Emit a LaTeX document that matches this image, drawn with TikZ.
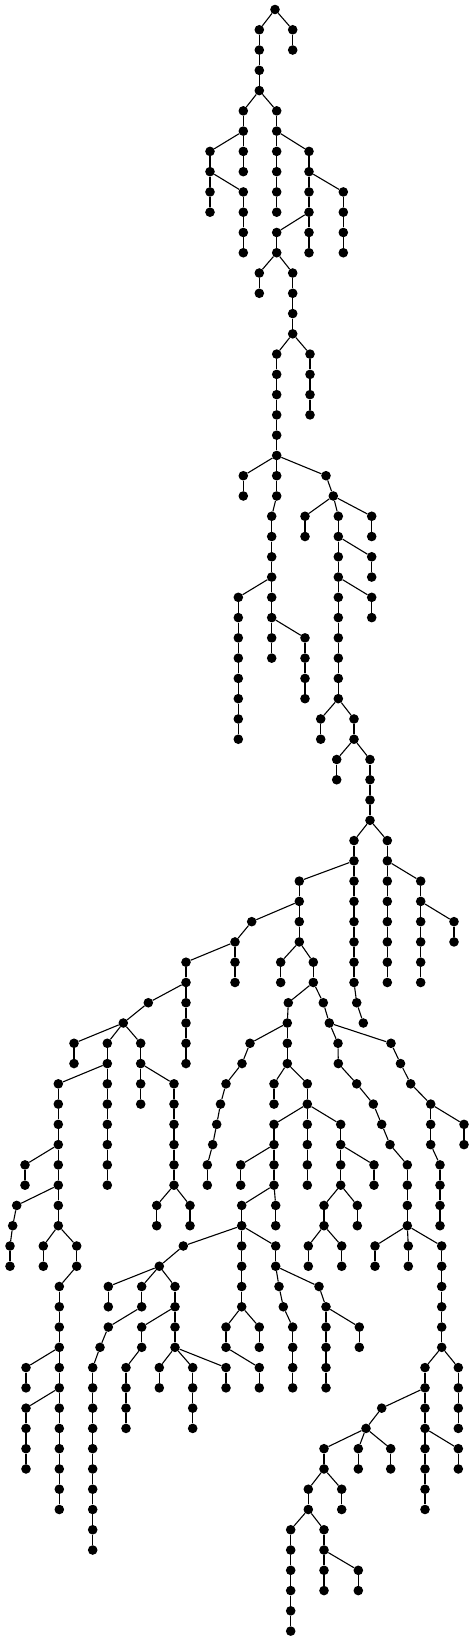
\documentclass[tikz,border=0pt]{standalone}
\begin{document}
\begin{tikzpicture}[x=1pt,y=1pt,
  dot/.style={circle,fill=black,draw=none,inner sep=0pt,minimum size=9.6pt},
  edge/.style={line width=1.1pt,black}]
\path[use as bounding box] (0,0) rectangle (475,-1642);
\newcommand\N[3]{\node[dot] (#1) at (#2,{-9.5-20.27*#3}) {};}
\N{a0}{275}{0}
\N{a1}{259.3}{1}\N{c1}{292.7}{1}
\N{a2}{259.3}{2}\N{c2}{292.7}{2}
\N{a3}{259.3}{3}
\N{a4}{259.3}{4}
\N{d5}{243.3}{5}\N{e5}{276.7}{5}
\N{d6}{243.3}{6}\N{e6}{276.7}{6}
\N{f7}{210}{7}\N{g7}{243.3}{7}\N{e7}{276.7}{7}\N{i7}{309}{7}
\N{f8}{210}{8}\N{g8}{243.3}{8}\N{e8}{276.7}{8}\N{i8}{309}{8}
\N{f9}{210}{9}\N{h9}{243.3}{9}\N{e9}{276.7}{9}\N{i9}{309}{9}\N{j9}{343.3}{9}
\N{f10}{210}{10}\N{h10}{243.3}{10}\N{e10}{276.7}{10}\N{i10}{309}{10}\N{j10}{343.3}{10}
\N{h11}{243.3}{11}\N{k11}{276.7}{11}\N{i11}{309}{11}\N{j11}{343.3}{11}
\N{h12}{243.3}{12}\N{k12}{276.7}{12}\N{i12}{309}{12}\N{j12}{343.3}{12}
\N{m13}{259.3}{13}\N{n13}{292.7}{13}
\N{m14}{259.3}{14}\N{n14}{292.7}{14}
\N{n15}{292.7}{15}
\N{n16}{292.7}{16}
\N{o17}{276.7}{17}\N{q17}{310}{17}
\N{o18}{276.7}{18}\N{q18}{310}{18}
\N{o19}{276.7}{19}\N{q19}{310}{19}
\N{o20}{276.7}{20}\N{q20}{310}{20}
\N{o21}{276.7}{21}
\N{o22}{276.7}{22}
\N{r23}{243.3}{23}\N{s23}{276.7}{23}\N{t23}{326}{23}
\N{r24}{243.3}{24}\N{s24}{276.7}{24}\N{t24}{333.3}{24}
\N{s25}{271.7}{25}\N{u25}{305}{25}\N{t25}{338.3}{25}\N{v25}{371.7}{25}
\N{s26}{271.7}{26}\N{u26}{305}{26}\N{t26}{338.3}{26}\N{v26}{371.7}{26}
\N{s27}{271.7}{27}\N{t27}{338.3}{27}\N{w27}{371.7}{27}
\N{s28}{271.7}{28}\N{t28}{338.3}{28}\N{w28}{371.7}{28}
\N{x29}{238.3}{29}\N{s29}{271.7}{29}\N{t29}{338.3}{29}\N{y29}{371.7}{29}
\N{x30}{238.3}{30}\N{s30}{271.7}{30}\N{t30}{338.3}{30}\N{y30}{371.7}{30}
\N{x31}{238.3}{31}\N{s31}{271.7}{31}\N{z31}{305}{31}\N{t31}{338.3}{31}
\N{x32}{238.3}{32}\N{s32}{271.7}{32}\N{z32}{305}{32}\N{t32}{338.3}{32}
\N{x33}{238.3}{33}\N{z33}{305}{33}\N{t33}{338.3}{33}
\N{x34}{238.3}{34}\N{z34}{305}{34}\N{t34}{338.3}{34}
\N{x35}{238.3}{35}\N{aa35}{320.7}{35}\N{ab35}{354}{35}
\N{x36}{238.3}{36}\N{aa36}{320.7}{36}\N{ab36}{354}{36}
\N{ac37}{336.7}{37}\N{ad37}{370}{37}
\N{ac38}{336.7}{38}\N{ad38}{370}{38}
\N{ad39}{370}{39}
\N{ad40}{370}{40}
\N{ae41}{354}{41}\N{af41}{387.3}{41}
\N{ae42}{354}{42}\N{af42}{387.3}{42}
\N{ag43}{299.3}{43}\N{ae43}{354}{43}\N{af43}{387.3}{43}\N{ah43}{420.7}{43}
\N{ag44}{299.3}{44}\N{ae44}{354}{44}\N{af44}{387.3}{44}\N{ah44}{420.7}{44}
\N{ai45}{251.7}{45}\N{ag45}{299.3}{45}\N{ae45}{354}{45}\N{af45}{387.3}{45}\N{ah45}{420.7}{45}\N{aj45}{454}{45}
\N{ai46}{235}{46}\N{ag46}{299.3}{46}\N{ae46}{354}{46}\N{af46}{387.3}{46}\N{ah46}{420.7}{46}\N{aj46}{454}{46}
\N{ak47}{186}{47}\N{ai47}{235}{47}\N{al47}{280.7}{47}\N{am47}{313.3}{47}\N{ae47}{354}{47}\N{af47}{387.3}{47}\N{ah47}{420.7}{47}
\N{ak48}{186}{48}\N{ai48}{235}{48}\N{al48}{280.7}{48}\N{am48}{313.3}{48}\N{ae48}{354}{48}\N{af48}{387.3}{48}\N{ah48}{420.7}{48}
\N{an49}{148.3}{49}\N{ak49}{186}{49}\N{ao49}{288.3}{49}\N{ap49}{323.3}{49}\N{ae49}{356.7}{49}
\N{an50}{123.3}{50}\N{ak50}{186}{50}\N{ao50}{287.3}{50}\N{ap50}{329.3}{50}\N{ae50}{363.3}{50}
\N{aq51}{74}{51}\N{ar51}{107.3}{51}\N{as51}{140.7}{51}\N{ak51}{186}{51}\N{at51}{250}{51}\N{ao51}{287.3}{51}\N{au51}{338}{51}\N{av51}{391}{51}
\N{aq52}{74}{52}\N{ar52}{107.3}{52}\N{as52}{140.7}{52}\N{ak52}{186}{52}\N{at52}{242}{52}\N{ao52}{287.3}{52}\N{au52}{338.3}{52}\N{av52}{400.5}{52}
\N{aw53}{58.3}{53}\N{ar53}{107.3}{53}\N{as53}{140.7}{53}\N{ax53}{174}{53}\N{at53}{226}{53}\N{ay53}{274}{53}\N{az53}{307.3}{53}\N{au53}{356.7}{53}\N{av53}{410.7}{53}
\N{aw54}{58.3}{54}\N{ar54}{107.3}{54}\N{as54}{140.7}{54}\N{ax54}{174}{54}\N{at54}{220.5}{54}\N{ay54}{274}{54}\N{az54}{307.3}{54}\N{au54}{373.3}{54}\N{av54}{430.7}{54}
\N{aw55}{58.3}{55}\N{ar55}{107.3}{55}\N{ax55}{174}{55}\N{at55}{216.7}{55}\N{ba55}{274}{55}\N{az55}{307.3}{55}\N{bb55}{340.7}{55}\N{au55}{381.7}{55}\N{av55}{430.7}{55}\N{bc55}{464}{55}
\N{aw56}{58.3}{56}\N{ar56}{107.3}{56}\N{ax56}{174}{56}\N{at56}{212.7}{56}\N{ba56}{274}{56}\N{az56}{307.3}{56}\N{bb56}{340.7}{56}\N{au56}{390}{56}\N{av56}{430.7}{56}\N{bc56}{464}{56}
\N{bd57}{25}{57}\N{aw57}{58.3}{57}\N{ar57}{107.3}{57}\N{ax57}{174}{57}\N{at57}{207.3}{57}\N{be57}{240.7}{57}\N{ba57}{274}{57}\N{az57}{307.3}{57}\N{bb57}{340.7}{57}\N{bf57}{374}{57}\N{au57}{407.3}{57}\N{av57}{440}{57}
\N{bd58}{25}{58}\N{aw58}{58.3}{58}\N{ar58}{107.3}{58}\N{ax58}{174}{58}\N{at58}{207.3}{58}\N{be58}{240.7}{58}\N{ba58}{274}{58}\N{az58}{307.3}{58}\N{bb58}{340.7}{58}\N{bf58}{374}{58}\N{au58}{407.3}{58}\N{av58}{440}{58}
\N{bg59}{16.7}{59}\N{aw59}{58.3}{59}\N{bh59}{156.7}{59}\N{bi59}{190}{59}\N{bj59}{241.7}{59}\N{bk59}{275.7}{59}\N{bl59}{324}{59}\N{bm59}{357.3}{59}\N{au59}{407.3}{59}\N{av59}{440}{59}
\N{bg60}{12.7}{60}\N{aw60}{58.3}{60}\N{bh60}{156.7}{60}\N{bi60}{190}{60}\N{bj60}{241.7}{60}\N{bk60}{275.7}{60}\N{bl60}{324}{60}\N{bm60}{357.3}{60}\N{au60}{407.3}{60}\N{av60}{440}{60}
\N{bg61}{10}{61}\N{bn61}{43.3}{61}\N{bo61}{76.7}{61}\N{bp61}{183.3}{61}\N{bj61}{241.7}{61}\N{bq61}{275.7}{61}\N{br61}{308.3}{61}\N{bs61}{341.7}{61}\N{bt61}{375}{61}\N{bu61}{408.3}{61}\N{bv61}{441.7}{61}
\N{bg62}{10}{62}\N{bn62}{43.3}{62}\N{bo62}{76.7}{62}\N{bp62}{159.3}{62}\N{bj62}{241.7}{62}\N{bq62}{275.7}{62}\N{br62}{308.3}{62}\N{bs62}{341.7}{62}\N{bt62}{375}{62}\N{bu62}{408.3}{62}\N{bv62}{441.7}{62}
\N{bo63}{59.3}{63}\N{bw63}{108.3}{63}\N{bx63}{141.7}{63}\N{by63}{175}{63}\N{bj63}{241.7}{63}\N{bz63}{279}{63}\N{ca63}{319}{63}\N{bv63}{441.7}{63}
\N{bo64}{59.3}{64}\N{bw64}{108.3}{64}\N{bx64}{141.7}{64}\N{by64}{175}{64}\N{bj64}{241.7}{64}\N{bz64}{283.3}{64}\N{ca64}{326}{64}\N{bv64}{441.7}{64}
\N{bo65}{59.3}{65}\N{cb65}{108.3}{65}\N{cc65}{141.7}{65}\N{by65}{175}{65}\N{cd65}{226}{65}\N{ce65}{259.3}{65}\N{bz65}{292.7}{65}\N{ca65}{326}{65}\N{cf65}{359.3}{65}\N{bv65}{441.7}{65}
\N{bo66}{59.3}{66}\N{cb66}{100}{66}\N{cc66}{141.7}{66}\N{by66}{175}{66}\N{cd66}{226}{66}\N{ce66}{259.3}{66}\N{bz66}{292.7}{66}\N{ca66}{326}{66}\N{cf66}{359.3}{66}\N{bv66}{441.7}{66}
\N{cg67}{26}{67}\N{bo67}{59.3}{67}\N{cb67}{92.7}{67}\N{cc67}{126}{67}\N{ch67}{159.3}{67}\N{ci67}{192.7}{67}\N{cj67}{226}{67}\N{ck67}{259.3}{67}\N{bz67}{292.7}{67}\N{ca67}{326}{67}\N{cl67}{425}{67}\N{cm67}{458.3}{67}
\N{cg68}{26}{68}\N{bo68}{59.3}{68}\N{cb68}{92.7}{68}\N{cc68}{126}{68}\N{ch68}{159.3}{68}\N{ci68}{192.7}{68}\N{cj68}{226}{68}\N{ck68}{259.3}{68}\N{bz68}{292.7}{68}\N{ca68}{326}{68}\N{cl68}{425}{68}\N{cm68}{458.3}{68}
\N{cn69}{26}{69}\N{bo69}{59.3}{69}\N{cb69}{92.7}{69}\N{cc69}{126}{69}\N{ci69}{192.7}{69}\N{co69}{381.7}{69}\N{cl69}{425}{69}\N{cm69}{458.3}{69}
\N{cn70}{26}{70}\N{bo70}{59.3}{70}\N{cb70}{92.7}{70}\N{cc70}{126}{70}\N{ci70}{192.7}{70}\N{co70}{366}{70}\N{cl70}{425}{70}\N{cm70}{458.3}{70}
\N{cn71}{26}{71}\N{bo71}{59.3}{71}\N{cb71}{92.7}{71}\N{cp71}{324}{71}\N{cq71}{358.3}{71}\N{cr71}{390.7}{71}\N{cl71}{425}{71}\N{cs71}{458.3}{71}
\N{cn72}{26}{72}\N{bo72}{59.3}{72}\N{cb72}{92.7}{72}\N{cp72}{324}{72}\N{cq72}{358.3}{72}\N{cr72}{390.7}{72}\N{cl72}{425}{72}\N{cs72}{458.3}{72}
\N{bo73}{59.3}{73}\N{cb73}{92.7}{73}\N{ct73}{308.3}{73}\N{cu73}{341.7}{73}\N{cl73}{425}{73}
\N{bo74}{59.3}{74}\N{cb74}{92.7}{74}\N{ct74}{308.3}{74}\N{cu74}{341.7}{74}\N{cl74}{425}{74}
\N{cb75}{92.7}{75}\N{cv75}{290.7}{75}\N{cw75}{324}{75}
\N{cb76}{92.7}{76}\N{cv76}{290.7}{76}\N{cw76}{324}{76}
\N{cv77}{290.7}{77}\N{cw77}{324}{77}\N{cx77}{358.3}{77}
\N{cv78}{290.7}{78}\N{cw78}{324}{78}\N{cx78}{358.3}{78}
\N{cv79}{290.7}{79}
\N{cv80}{290.7}{80}
\foreach \p/\c in {
a0/a1,a0/c1,a1/a2,c1/c2,a2/a3,a3/a4,a4/d5,a4/e5,d5/d6,e5/e6,
d6/f7,d6/g7,e6/e7,e6/i7,f7/f8,g7/g8,e7/e8,i7/i8,
f8/f9,f8/h9,e8/e9,i8/i9,i8/j9,f9/f10,h9/h10,e9/e10,i9/i10,j9/j10,
h10/h11,i10/k11,i10/i11,j10/j11,h11/h12,k11/k12,i11/i12,j11/j12,
k12/m13,k12/n13,m13/m14,n13/n14,n14/n15,n15/n16,n16/o17,n16/q17,
o17/o18,q17/q18,o18/o19,q18/q19,o19/o20,q19/q20,o20/o21,o21/o22,
o22/r23,o22/s23,o22/t23,r23/r24,s23/s24,t23/t24,
s24/s25,t24/u25,t24/t25,t24/v25,s25/s26,u25/u26,t25/t26,v25/v26,
s26/s27,t26/t27,t26/w27,s27/s28,t27/t28,w27/w28,
s28/x29,s28/s29,t28/t29,t28/y29,x29/x30,s29/s30,t29/t30,y29/y30,
x30/x31,s30/s31,s30/z31,t30/t31,x31/x32,s31/s32,z31/z32,t31/t32,
x32/x33,z32/z33,t32/t33,x33/x34,z33/z34,t33/t34,
x34/x35,t34/aa35,t34/ab35,x35/x36,aa35/aa36,ab35/ab36,
ab36/ac37,ab36/ad37,ac37/ac38,ad37/ad38,ad38/ad39,ad39/ad40,
ad40/ae41,ad40/af41,ae41/ae42,af41/af42,
ae42/ag43,ae42/ae43,af42/af43,af42/ah43,
ag43/ag44,ae43/ae44,af43/af44,ah43/ah44,
ag44/ai45,ag44/ag45,ae44/ae45,af44/af45,ah44/ah45,ah44/aj45,
ai45/ai46,ag45/ag46,ae45/ae46,af45/af46,ah45/ah46,aj45/aj46,
ai46/ak47,ai46/ai47,ag46/al47,ag46/am47,ae46/ae47,af46/af47,ah46/ah47,
ak47/ak48,ai47/ai48,al47/al48,am47/am48,ae47/ae48,af47/af48,ah47/ah48,
ak48/an49,ak48/ak49,am48/ao49,am48/ap49,ae48/ae49,
an49/an50,ak49/ak50,ao49/ao50,ap49/ap50,ae49/ae50,
an50/aq51,an50/ar51,an50/as51,ak50/ak51,ao50/at51,ao50/ao51,ap50/au51,ap50/av51,
aq51/aq52,ar51/ar52,as51/as52,ak51/ak52,at51/at52,ao51/ao52,au51/au52,av51/av52,
ar52/aw53,ar52/ar53,as52/as53,as52/ax53,at52/at53,ao52/ay53,ao52/az53,au52/au53,av52/av53,
aw53/aw54,ar53/ar54,as53/as54,ax53/ax54,at53/at54,ay53/ay54,az53/az54,au53/au54,av53/av54,
aw54/aw55,ar54/ar55,ax54/ax55,at54/at55,az54/ba55,az54/az55,az54/bb55,au54/au55,av54/av55,av54/bc55,
aw55/aw56,ar55/ar56,ax55/ax56,at55/at56,ba55/ba56,az55/az56,bb55/bb56,au55/au56,av55/av56,bc55/bc56,
aw56/bd57,aw56/aw57,ar56/ar57,ax56/ax57,at56/at57,ba56/be57,ba56/ba57,az56/az57,bb56/bb57,bb56/bf57,au56/au57,av56/av57,
bd57/bd58,aw57/aw58,ar57/ar58,ax57/ax58,at57/at58,be57/be58,ba57/ba58,az57/az58,bb57/bb58,bf57/bf58,au57/au58,av57/av58,
aw58/bg59,aw58/aw59,ax58/bh59,ax58/bi59,ba58/bj59,ba58/bk59,bb58/bl59,bb58/bm59,au58/au59,av58/av59,
bg59/bg60,aw59/aw60,bh59/bh60,bi59/bi60,bj59/bj60,bk59/bk60,bl59/bl60,bm59/bm60,au59/au60,av59/av60,
bg60/bg61,aw60/bn61,aw60/bo61,bj60/bp61,bj60/bj61,bj60/bq61,bl60/br61,bl60/bs61,au60/bt61,au60/bu61,au60/bv61,
bg61/bg62,bn61/bn62,bo61/bo62,bp61/bp62,bj61/bj62,bq61/bq62,br61/br62,bs61/bs62,bt61/bt62,bu61/bu62,bv61/bv62,
bo62/bo63,bp62/bw63,bp62/bx63,bp62/by63,bj62/bj63,bq62/bz63,bq62/ca63,bv62/bv63,
bo63/bo64,bw63/bw64,bx63/bx64,by63/by64,bj63/bj64,bz63/bz64,ca63/ca64,bv63/bv64,
bo64/bo65,bx64/cb65,by64/cc65,by64/by65,bj64/cd65,bj64/ce65,bz64/bz65,ca64/ca65,ca64/cf65,bv64/bv65,
bo65/bo66,cb65/cb66,cc65/cc66,by65/by66,cd65/cd66,ce65/ce66,bz65/bz66,ca65/ca66,cf65/cf66,bv65/bv66,
bo66/cg67,bo66/bo67,cb66/cb67,cc66/cc67,by66/ch67,by66/ci67,by66/cj67,cd66/ck67,bz66/bz67,ca66/ca67,bv66/cl67,bv66/cm67,
cg67/cg68,bo67/bo68,cb67/cb68,cc67/cc68,ch67/ch68,ci67/ci68,cj67/cj68,ck67/ck68,bz67/bz68,ca67/ca68,cl67/cl68,cm67/cm68,
bo68/cn69,bo68/bo69,cb68/cb69,cc68/cc69,ci68/ci69,cl68/co69,cl68/cl69,cm68/cm69,
cn69/cn70,bo69/bo70,cb69/cb70,cc69/cc70,ci69/ci70,co69/co70,cl69/cl70,cm69/cm70,
cn70/cn71,bo70/bo71,cb70/cb71,co70/cp71,co70/cq71,co70/cr71,cl70/cl71,cl70/cs71,
cn71/cn72,bo71/bo72,cb71/cb72,cp71/cp72,cq71/cq72,cr71/cr72,cl71/cl72,cs71/cs72,
bo72/bo73,cb72/cb73,cp72/ct73,cp72/cu73,cl72/cl73,
bo73/bo74,cb73/cb74,ct73/ct74,cu73/cu74,cl73/cl74,
cb74/cb75,ct74/cv75,ct74/cw75,cb75/cb76,cv75/cv76,cw75/cw76,
cv76/cv77,cw76/cw77,cw76/cx77,cv77/cv78,cw77/cw78,cx77/cx78,cv78/cv79,cv79/cv80}
  \draw[edge] (\p) -- (\c);
\end{tikzpicture}
\end{document}
